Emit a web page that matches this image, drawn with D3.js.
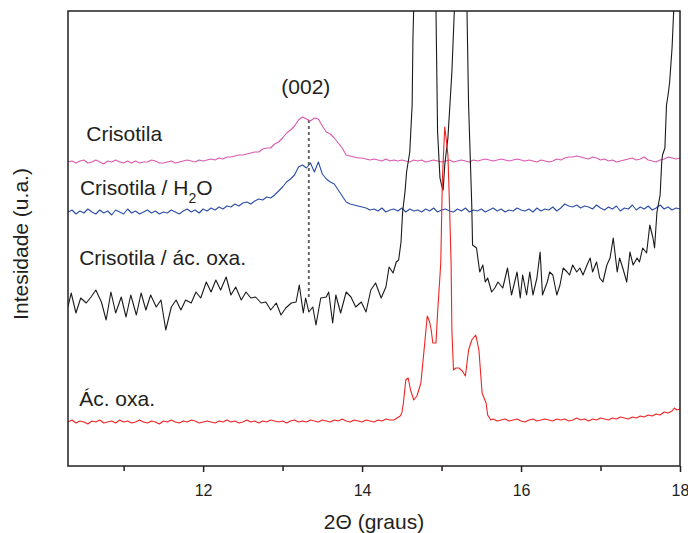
<!DOCTYPE html>
<html>
<head>
<meta charset="utf-8">
<script src="https://cdn.jsdelivr.net/npm/d3@7"></script>
<style>
  body { margin: 0; background: #fff; }
  text { font-family: "Liberation Sans", Arial, sans-serif; fill: #231f20; }
</style>
</head>
<body>
<script>
// XRD patterns, 2theta 10.3 - 18, intensity in arbitrary units

// common 2theta grid (step 0.05) for the two smooth traces
var grid = d3.range(0, 155).map(function(i){ return +(10.3 + i * 0.05).toFixed(2); });

// Crisotila
var crisotila = [
  304,305,303,305,306,303,304,306,304,302,305,304,306,304,303,305,303,305,303,304,
  304,306,305,303,303,304,305,303,304,305,306,305,304,306,305,
  306,307,306,308,307,309,309,310,311,311,312,313,314,314,317,318,318,322,324,328,
  333,336,340,346,349,347,345,348,347,340,334,332,328,323,318,311,310,309,308,308,
  307,306,307,306,305,307,305,306,305,306,305,304,306,305,306,304,305,306,305,304,
  305,306,304,305,306,305,304,306,305,306,307,306,305,306,307,306,305,306,307,306,
  305,306,305,304,306,305,304,305,307,306,308,309,309,310,309,308,307,309,308,306,
  307,305,306,304,305,306,307,308,306,307,309,306,305,304,306,307,309,308,307,308
];

// Crisotila / H2O
var crisotilaH2O = [
  254,256,252,255,253,257,254,252,256,253,255,251,256,254,252,257,253,255,252,254,
  256,253,255,252,254,253,256,254,252,255,257,254,256,253,257,
  255,258,256,259,257,260,259,262,260,263,264,262,265,267,266,269,268,271,275,279,
  284,287,291,299,301,298,303,294,304,292,287,284,282,276,270,264,262,261,260,259,
  258,256,257,255,258,254,256,257,255,258,254,257,255,256,254,257,255,258,254,256,
  257,255,254,257,255,258,254,256,255,257,254,256,258,255,257,254,256,255,258,256,
  255,257,254,258,255,257,256,259,255,258,262,260,259,261,258,260,259,257,261,258,
  256,259,257,260,255,258,257,261,256,259,257,260,256,258,261,257,259,256,258,257
];

// Crisotila / ac. oxa. as [2theta, intensity]
var crisotilaOxa = [
  [10.30,159],[10.34,173],[10.40,153],[10.46,168],[10.53,163],[10.59,169],[10.65,176],[10.72,164],
  [10.78,146],[10.84,174],[10.90,153],[10.97,169],[11.03,149],[11.09,171],[11.16,151],[11.22,173],
  [11.28,156],[11.34,171],[11.41,159],[11.47,166],[11.53,136],[11.60,159],[11.66,166],[11.72,156],
  [11.78,166],[11.85,163],[11.91,174],[11.97,168],[12.04,184],[12.10,174],[12.16,186],[12.22,176],
  [12.29,189],[12.35,171],[12.41,179],[12.48,166],[12.54,174],[12.60,168],[12.66,169],[12.73,163],
  [12.79,164],[12.85,156],[12.92,163],[12.98,151],[13.04,158],[13.11,163],[13.17,164],[13.21,181],
  [13.26,153],[13.29,168],[13.33,154],[13.38,159],[13.42,141],[13.48,168],[13.55,169],[13.58,174],
  [13.63,143],[13.67,171],[13.73,153],[13.80,174],[13.86,169],[13.92,159],[13.99,164],[14.05,154],
  [14.11,176],[14.17,183],[14.24,168],[14.30,179],[14.34,199],[14.39,193],[14.43,204],[14.46,206],
  [14.49,224],[14.51,254],[14.54,274],[14.56,294],[14.60,314],[14.63,361],[14.64,428],[14.67,520],
  [14.75,640],[14.84,660],[14.91,540],[14.93,455],[14.95,334],[14.98,288],[15.00,281],[15.02,276],
  [15.04,301],[15.08,328],[15.13,394],[15.16,454],[15.20,560],[15.26,600],[15.30,520],[15.32,455],
  [15.34,361],[15.38,261],[15.39,221],[15.44,218],[15.48,194],[15.52,201],[15.55,184],[15.58,188],
  [15.63,174],[15.67,178],[15.71,184],[15.77,178],[15.83,198],[15.88,171],[15.95,194],[15.99,168],
  [16.02,191],[16.07,171],[16.11,194],[16.15,171],[16.20,188],[16.24,214],[16.27,171],[16.33,184],
  [16.36,194],[16.40,191],[16.45,171],[16.49,181],[16.53,198],[16.58,194],[16.61,191],[16.65,201],
  [16.70,194],[16.74,198],[16.78,191],[16.83,201],[16.87,208],[16.90,194],[16.95,204],[16.99,188],
  [17.03,184],[17.08,201],[17.12,208],[17.16,228],[17.21,194],[17.24,208],[17.28,198],[17.33,184],
  [17.37,214],[17.41,201],[17.46,208],[17.49,204],[17.53,218],[17.58,213],[17.62,241],[17.66,228],
  [17.68,218],[17.71,254],[17.75,271],[17.77,304],[17.78,311],[17.81,318],[17.83,361],[17.85,371],
  [17.87,384],[17.90,418],[17.92,454],[17.96,520],[18.00,580]
];

// Ac. oxa. as [2theta, intensity]
var acOxa = [
  [10.30,44],[10.35,46],[10.40,43],[10.45,45],[10.50,44],[10.55,42],[10.60,45],[10.65,44],[10.70,46],
  [10.75,43],[10.80,44],[10.85,45],[10.90,43],[10.95,46],[11.00,44],[11.05,45],[11.10,43],[11.15,44],
  [11.20,46],[11.25,44],[11.30,43],[11.35,45],[11.40,44],[11.45,42],[11.50,45],[11.55,44],[11.60,46],
  [11.65,44],[11.70,43],[11.75,45],[11.80,44],[11.85,46],[11.90,45],[11.95,43],[12.00,44],[12.05,45],
  [12.10,44],[12.15,43],[12.20,45],[12.25,44],[12.30,46],[12.35,44],[12.40,45],[12.45,43],[12.50,44],
  [12.55,46],[12.60,44],[12.65,45],[12.70,43],[12.75,45],[12.80,44],[12.85,46],[12.90,45],[12.95,44],
  [13.00,45],[13.05,43],[13.10,45],[13.15,46],[13.20,44],[13.25,45],[13.30,44],[13.35,46],[13.40,45],
  [13.45,44],[13.50,46],[13.55,45],[13.60,44],[13.65,46],[13.70,45],[13.75,47],[13.80,45],[13.85,44],
  [13.90,46],[13.95,45],[14.00,44],[14.05,46],[14.10,45],[14.15,44],[14.20,46],[14.25,45],[14.30,47],
  [14.35,46],[14.40,46],[14.44,48],[14.48,50],[14.50,53],[14.52,63],[14.55,86],[14.58,88],[14.61,76],
  [14.65,66],[14.69,70],[14.74,83],[14.78,116],[14.82,150],[14.85,144],[14.87,136],[14.89,123],
  [14.93,123],[14.95,153],[14.99,203],[15.01,286],[15.04,339],[15.06,326],[15.08,311],[15.10,261],
  [15.12,203],[15.13,136],[15.15,96],[15.18,98],[15.22,98],[15.26,95],[15.30,90],[15.34,116],
  [15.38,126],[15.43,131],[15.47,116],[15.51,73],[15.56,63],[15.58,51],[15.62,46],[15.65,47],
  [15.70,45],[15.75,46],[15.80,47],[15.85,45],[15.90,46],[15.95,47],[16.00,45],[16.05,44],[16.10,46],
  [16.15,47],[16.20,45],[16.25,46],[16.30,47],[16.35,46],[16.40,45],[16.45,47],[16.50,46],[16.55,47],
  [16.60,45],[16.65,46],[16.70,48],[16.75,46],[16.80,47],[16.85,45],[16.90,47],[16.95,46],[17.00,48],
  [17.05,47],[17.10,46],[17.15,48],[17.20,47],[17.25,49],[17.30,48],[17.35,47],[17.40,49],[17.45,48],
  [17.50,50],[17.55,49],[17.60,51],[17.65,50],[17.70,52],[17.75,51],[17.80,54],[17.85,53],[17.90,55],
  [17.93,58],[17.96,56],[18.00,57]
];

// (002) reflection marker
var peak002 = 13.33, peak002Top = 346, peak002Bottom = 166;

var majorTicks = [12, 14, 16, 18],
    minorTicks = [11, 13, 15, 17];

var labels = [
  {text: "Crisotila", x: 10.53, y: 325},
  {text: "Crisotila / H", sub: "2", after: "O", x: 10.45, y: 271},
  {text: "Crisotila / ác. oxa.", x: 10.44, y: 201},
  {text: "Ác. oxa.", x: 10.44, y: 60}
];

var width = 688, height = 533;
var margin = {top: 11, right: 8, bottom: 67, left: 68};

var svg = d3.select("body").append("svg")
  .attr("width", width)
  .attr("height", height);

var x = d3.scaleLinear()
  .domain([10.3, 18])
  .range([margin.left, width - margin.right]);

var y = d3.scaleLinear()
  .domain([0, 455])
  .range([height - margin.bottom, margin.top]);

svg.append("clipPath").attr("id", "plot")
  .append("rect")
  .attr("x", margin.left).attr("y", margin.top)
  .attr("width", x.range()[1] - margin.left)
  .attr("height", y.range()[0] - margin.top);

var line = d3.line()
  .x(function(d){ return x(d[0]); })
  .y(function(d){ return y(d[1]); });

var series = [
  {data: grid.map(function(t, i){ return [t, crisotila[i]]; }), color: "#d85aae"},
  {data: grid.map(function(t, i){ return [t, crisotilaH2O[i]]; }), color: "#2c4ea6"},
  {data: crisotilaOxa, color: "#1a1a1a"},
  {data: acOxa, color: "#ee2424"}
];

var plot = svg.append("g").attr("clip-path", "url(#plot)");

// dotted line for the (002) reflection
plot.append("line")
  .attr("x1", x(peak002)).attr("x2", x(peak002))
  .attr("y1", y(peak002Top)).attr("y2", y(peak002Bottom))
  .attr("stroke", "#666")
  .attr("stroke-width", 2)
  .attr("stroke-dasharray", "3,3");

plot.selectAll(".trace")
  .data(series)
  .enter()
  .append("path")
  .attr("class", "trace")
  .attr("fill", "none")
  .attr("stroke", function(d){ return d.color; })
  .attr("stroke-width", 1.1)
  .attr("stroke-linejoin", "round")
  .attr("d", function(d){ return line(d.data); });

// frame
svg.append("rect")
  .attr("x", margin.left).attr("y", margin.top)
  .attr("width", x.range()[1] - margin.left)
  .attr("height", y.range()[0] - margin.top)
  .attr("fill", "none")
  .attr("stroke", "#231f20")
  .attr("stroke-width", 1.5);

// x axis, major and minor ticks
var axisMajor = svg.append("g")
  .attr("transform", "translate(0," + y.range()[0] + ")")
  .call(d3.axisBottom(x).tickValues(majorTicks).tickSize(6).tickPadding(13).tickFormat(d3.format("d")));
var axisMinor = svg.append("g")
  .attr("transform", "translate(0," + y.range()[0] + ")")
  .call(d3.axisBottom(x).tickValues(minorTicks).tickSize(5).tickFormat(""));

[axisMajor, axisMinor].forEach(function(a){
  a.select(".domain").remove();
  a.selectAll(".tick line").attr("stroke", "#231f20").attr("stroke-width", 1.5);
});
axisMajor.selectAll(".tick text")
  .attr("font-size", 16)
  .attr("font-family", "Liberation Sans, Arial, sans-serif")
  .attr("fill", "#231f20");

// axis titles
svg.append("text")
  .attr("x", 374).attr("y", 529)
  .attr("text-anchor", "middle")
  .attr("font-size", 21)
  .text("2Θ (graus)");

svg.append("text")
  .attr("transform", "translate(28,244) rotate(-90)")
  .attr("text-anchor", "middle")
  .attr("font-size", 21)
  .text("Intesidade (u.a.)");

// peak label
svg.append("text")
  .attr("x", x(peak002) - 3).attr("y", 94)
  .attr("text-anchor", "middle")
  .attr("font-size", 21)
  .text("(002)");

// trace labels
labels.forEach(function(l){
  var t = svg.append("text")
    .attr("x", x(l.x)).attr("y", y(l.y))
    .attr("font-size", 21);
  t.append("tspan").text(l.text);
  if (l.sub) {
    t.append("tspan").attr("font-size", 14).attr("dy", 8).text(l.sub);
    t.append("tspan").attr("dy", -8).text(l.after);
  }
});
</script>
</body>
</html>
